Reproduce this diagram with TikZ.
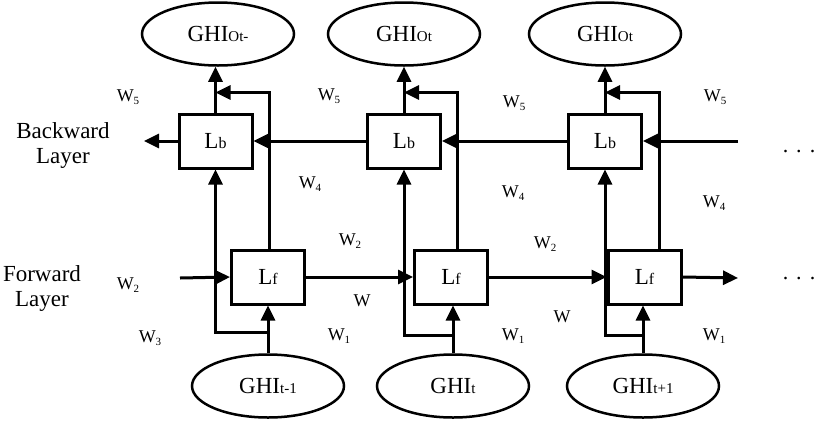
\documentclass[tikz,border=0pt]{standalone}
\usepackage{fontspec}
\setmainfont{Liberation Serif}
\usetikzlibrary{arrows.meta,shapes.geometric,calc}
\newcommand\wsub[1]{W\raisebox{-2.5pt}{\fontsize{11}{11}\selectfont #1}}
\newcommand\gsub[1]{GHI{\fontsize{15}{15}\selectfont #1}}
\newcommand\lsub[1]{L{\fontsize{16}{16}\selectfont #1}}
\tikzset{
  ell/.style={draw,ellipse,line width=2.5pt,minimum width=152pt,minimum height=63pt,inner sep=0pt,font=\fontsize{23}{23}\selectfont},
  cell/.style={draw,rectangle,line width=3pt,minimum width=73pt,minimum height=54pt,inner sep=0pt,font=\fontsize{23}{23}\selectfont},
  wlab/.style={font=\fontsize{18}{18}\selectfont,inner sep=0pt},
  layerlab/.style={font=\fontsize{23}{25}\selectfont,align=center,inner sep=0pt},
  arr/.style={line width=3pt,-{Triangle[length=15pt,width=14pt]}},
  ln/.style={line width=3pt}
}
\begin{document}
\begin{tikzpicture}[x=1pt,y=-1pt]
\useasboundingbox (0,0) rectangle (822,421);
% output ellipses
\node[ell] (O1) at (218,34) {\gsub{Ot-}};
\node[ell] (O2) at (404,34) {\gsub{Ot}};
\node[ell] (O3) at (605,34) {\gsub{Ot}};
% backward cells
\node[cell] (Lb1) at (215.5,141) {\lsub{b}};
\node[cell] (Lb2) at (404,141) {\lsub{b}};
\node[cell] (Lb3) at (605,141) {\lsub{b}};
% forward cells
\node[cell] (Lf1) at (268,277) {\lsub{f}};
\node[cell] (Lf2) at (451,277) {\lsub{f}};
\node[cell] (Lf3) at (644.5,277) {\lsub{f}};
% input ellipses
\node[ell] (G1) at (268,386) {\gsub{t-1}};
\node[ell] (G2) at (453,386) {\gsub{t}};
\node[ell] (G3) at (643,386) {\gsub{t+1}};
% free ends
\coordinate (lout) at (144,141);
\coordinate (rin) at (738,141);
\coordinate (lin) at (180,278);
\coordinate (rout) at (738,278);
% backward layer
\draw[arr] (Lb2.west) -- (Lb1.east);
\draw[arr] (Lb3.west) -- (Lb2.east);
\draw[arr] (rin) -- (Lb3.east);
\draw[arr] (Lb1.west) -- (lout);
% forward layer
\draw[arr] (lin) -- (Lf1.west);
\draw[arr] (Lf1.east) -- (Lf2.west);
\draw[arr] (Lf2.east) -- (Lf3.west);
\draw[arr] (Lf3.east) -- (rout);
% outputs
\draw[arr] (Lb1.north) -- (Lb1.north |- O1.south);
\draw[arr] (Lb2.north) -- (Lb2.north |- O2.south);
\draw[arr] (Lb3.north) -- (Lb3.north |- O3.south);
% forward to output
\coordinate (f1) at ($(Lb1.east)+(16,0)$);
\coordinate (f2) at ($(Lb2.east)+(15,0)$);
\coordinate (f3) at ($(Lb3.east)+(16,0)$);
\draw[arr] (f1 |- Lf1.north) |- ($(Lb1.north)+(0,-20)$);
\draw[arr] (f2 |- Lf2.north) |- ($(Lb2.north)+(0,-20)$);
\draw[arr] (f3 |- Lf3.north) |- ($(Lb3.north)+(0,-20)$);
% inputs
\draw[arr] (G1.north) -- (G1.north |- Lf1.south);
\draw[arr] (G2.north) -- (G2.north |- Lf2.south);
\draw[arr] (G3.north) -- (G3.north |- Lf3.south);
\coordinate (b1) at ($(G1.north)+(0,-21)$);
\coordinate (b2) at ($(G2.north)+(0,-18)$);
\coordinate (b3) at ($(G3.north)+(0,-18)$);
\draw[arr] (b1) -| (Lb1.south);
\draw[arr] (b2) -| (Lb2.south);
\draw[arr] (b3) -| (Lb3.south);
% labels
\node[layerlab] (bl) at (63,145) {Backward\\Layer};
\node[layerlab] (fl) at (42,288) {Forward\\Layer};
\node[wlab] (w5a) at (128,97) {\wsub{5}};
\node[wlab] (w5b) at (329,96) {\wsub{5}};
\node[wlab] (w5c) at (514,103) {\wsub{5}};
\node[wlab] (w5d) at (715,97) {\wsub{5}};
\node[wlab] (w4a) at (310,184) {\wsub{4}};
\node[wlab] (w4b) at (513,193) {\wsub{4}};
\node[wlab] (w4c) at (714,203) {\wsub{4}};
\node[wlab] (w2a) at (128,285) {\wsub{2}};
\node[wlab] (w3) at (150,338) {\wsub{3}};
\node[wlab] (w2b) at (350,241) {\wsub{2}};
\node[wlab] (w2c) at (545,244) {\wsub{2}};
\node[wlab] (wa) at (362,301) {W};
\node[wlab] (wb) at (562,317) {W};
\node[wlab] (w1a) at (339,336) {\wsub{1}};
\node[wlab] (w1b) at (513,336) {\wsub{1}};
\node[wlab] (w1c) at (714,336) {\wsub{1}};
\node[font=\fontsize{22}{22}\selectfont,inner sep=0pt,anchor=base] (d1) at (799,152) {.\hspace{8pt}.\hspace{8pt}.};
\node[font=\fontsize{22}{22}\selectfont,inner sep=0pt,anchor=base] (d2) at (799,279) {.\hspace{8pt}.\hspace{8pt}.};
\end{tikzpicture}
\end{document}
